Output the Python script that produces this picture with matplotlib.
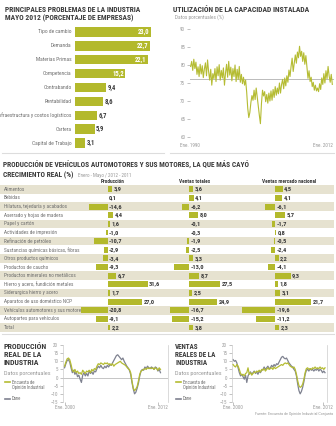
import numpy as np
import matplotlib
matplotlib.use('Agg')
import matplotlib.pyplot as plt
from matplotlib import font_manager

# ---------------------------------------------------------------
# DATA
# ---------------------------------------------------------------
problemas = ["Tipo de cambio", "Demanda", "Materias Primas", "Competencia",
             "Contrabando", "Rentabilidad", "Infraestructura y costos logísticos",
             "Cartera", "Capital de Trabajo"]
problemas_pct = [23.0, 22.7, 22.1, 15.2, 9.4, 8.6, 6.7, 5.9, 3.1]

# utilizacion de la capacidad instalada, bimestral desde ene. 1990
capacidad = [
    79.6, 81.0, 78.5, 81.6, 79.0, 80.8,
    77.4, 79.5, 76.8, 80.2, 77.5, 79.8,
    76.5, 78.9, 80.6, 77.0, 81.4, 78.2,
    75.8, 78.8, 74.4, 77.6, 76.2, 79.0,
    75.4, 79.5, 77.0, 80.1, 75.8, 78.5,
    76.4, 79.2, 74.4, 77.8, 80.2, 76.6,
    81.0, 77.2, 79.4, 75.6, 79.0, 76.8,
    80.0, 75.4, 78.8, 76.0, 79.6, 75.2,
    77.4, 74.8, 76.6, 74.4, 75.8, 72.5,
    68.0, 65.4, 66.8, 69.6, 71.5, 70.2,
    73.0, 70.4, 73.6, 71.0, 68.6, 66.0,
    63.7, 69.4, 73.0, 71.4, 72.6, 69.8,
    71.8, 69.4, 72.2, 70.0, 72.8, 70.2,
    73.2, 71.0, 74.0, 71.6, 73.6, 72.0,
    75.0, 72.2, 74.6, 76.0, 73.4, 76.4,
    74.2, 77.0, 75.2, 78.6, 76.8, 79.6,
    81.9, 78.2, 80.6, 82.8, 80.5, 83.6,
    82.0, 85.2, 82.4, 83.8, 81.0, 83.4,
    80.2, 82.6, 79.6, 76.3, 78.4, 75.4,
    76.6, 74.0, 75.2, 73.0, 74.4, 72.8,
    73.6, 72.6, 74.8, 73.2, 76.4, 74.6,
    77.6, 75.0, 78.4, 76.2, 79.6, 77.0,
    75.2, 77.4, 74.6,
]
capacidad_ref = 76.0

sectores = ["Alimentos", "Bebidas", "Hilatura, tejeduría y acabados",
            "Aserrado y hojas de madera", "Papel y cartón",
            "Actividades de impresión", "Refinación de petróleo",
            "Sustancias químicas básicas, fibras", "Otros productos químicos",
            "Productos de caucho", "Productos minerales no metálicos",
            "Hierro y acero, fundición metales", "Siderurgica hierro y acero",
            "Aparatos de uso doméstico NCP", "Vehículos automotores y sus motores",
            "Autopartes para vehículos", "Total"]
produccion = [3.9, 0.1, -14.6, 4.4, 1.6, -1.0, -10.7, -2.9, -3.4, -9.3,
              6.7, 31.6, 1.7, 27.0, -20.8, -9.1, 2.2]
ventas_totales = [3.6, 4.1, -6.2, 8.0, -0.1, -0.3, -1.9, -2.5, 3.3, -13.0,
                  8.7, 27.5, 2.5, 24.9, -16.7, -15.2, 3.8]
ventas_nacional = [4.5, 4.1, -6.1, 5.7, -1.7, 0.8, -0.5, -2.4, 2.2, -4.1,
                   9.3, 1.8, 3.1, 21.7, -19.6, -11.2, 2.3]

# series bimestrales desde ene. 2000
prod_encuesta = [
    7.0, 9.5, 11.5, 12.0, 11.0, 8.0,
    4.5, 3.5, 5.0, 3.0, 4.0, 2.5,
    3.0, 2.0, 4.5, 3.5, 2.5, 4.0,
    3.5, 4.5, 3.0, 5.0, 4.0, 5.5,
    5.0, 7.0, 8.5, 8.0, 9.0, 8.5,
    8.0, 9.0, 8.5, 9.0, 8.0, 8.5,
    7.5, 8.5, 7.0, 8.0, 8.5, 9.0,
    9.5, 10.0, 9.0, 8.5, 8.0, 7.5,
    6.5, 5.5, 5.0, 3.0, -2.0, -6.5,
    -8.0, -7.0, -5.5, -2.0, 2.0, 4.0,
    4.5, 5.0, 5.5, 5.0, 6.0, 5.5,
    6.0, 5.5, 6.0, 5.0, 6.0, 5.5,
    4.5, 6.0, 5.0,
]
prod_dane = [
    6.0, 8.5, 10.5, 11.0, 9.5, 6.0,
    3.0, 4.5, 2.0, 3.5, 0.5, 1.5,
    -1.0, -3.0, 1.5, 3.0, 1.0, 2.5,
    1.0, 4.0, 2.5, 3.5, 2.0, 4.0,
    3.5, 5.5, 7.0, 6.0, 7.5, 6.0,
    5.5, 7.0, 6.0, 7.5, 6.5, 8.0,
    7.5, 9.0, 10.5, 12.0, 13.5, 14.0,
    13.0, 12.0, 11.0, 12.0, 10.0, 8.5,
    7.0, 6.0, 4.5, 2.0, -3.0, -7.0,
    -10.0, -9.0, -6.5, -3.5, 1.0, 4.0,
    5.0, 4.5, 6.5, 5.5, 7.0, 6.0,
    5.5, 6.5, 6.0, 5.0, 6.5, 6.0,
    4.0, 5.0, 3.0,
]
ventas_encuesta = [
    8.0, 7.0, 6.5, 8.0, 7.0, 5.0,
    2.5, 1.5, 2.0, 1.0, 2.5, 3.0,
    6.0, 2.0, 3.0, 1.5, 2.5, 3.5,
    3.0, 4.0, 3.5, 4.5, 3.5, 5.0,
    4.5, 5.5, 4.0, 5.0, 6.0, 5.0,
    5.5, 6.0, 5.0, 6.5, 5.5, 6.0,
    6.5, 7.0, 7.5, 8.0, 7.5, 8.5,
    9.0, 8.5, 9.0, 8.0, 7.0, 6.5,
    6.0, 6.5, 5.0, 2.0, -2.0, -5.0,
    -6.0, -5.5, -4.0, -1.0, 3.0, 5.5,
    6.0, 5.0, 5.5, 5.0, 6.0, 5.5,
    6.5, 5.5, 6.0, 5.5, 6.5, 5.5,
    6.0, 5.0, 6.0,
]
ventas_dane = [
    11.0, 10.0, 10.5, 9.0, 6.0, 3.0,
    1.0, 2.0, 0.5, -1.0, 1.5, -3.0,
    1.0, 2.5, 3.5, 2.0, 3.0, 4.0,
    2.5, 3.5, 2.0, 4.0, 3.0, 4.5,
    5.0, 6.5, 5.0, 6.0, 7.0, 5.5,
    6.0, 7.5, 6.5, 8.0, 7.0, 8.5,
    8.0, 9.5, 11.0, 12.5, 13.0, 12.0,
    11.5, 12.0, 10.5, 9.0, 8.0, 7.0,
    6.5, 5.0, 4.0, 1.0, -4.0, -8.0,
    -10.0, -8.5, -6.0, -2.5, 2.0, 4.5,
    5.0, 4.0, 5.5, 4.5, 5.0, 4.0,
    5.0, 4.5, 5.5, 4.0, 5.0, 4.5,
    3.0, 4.0, 3.0,
]

# ---------------------------------------------------------------
# STYLE
# ---------------------------------------------------------------
W, H = 336, 426
GREEN = '#b3b92c'
LINE_GREEN = '#b5bc33'
GRAY_LINE = '#7f8290'
DARK = '#3a3a3a'
LABEL = '#6e6e6e'
SHADE = '#e6e2d0'

# pick a narrow face if one is installed, else Liberation Sans
fonts = font_manager.fontManager.ttflist
names = {f.name for f in fonts}
STRETCH = 'normal'
if 'Liberation Sans Narrow' in names:
    FAMILY = 'Liberation Sans Narrow'
elif 'Roboto Condensed' in names:
    FAMILY = 'Roboto Condensed'
elif any(f.name == 'DejaVu Sans' and f.stretch == 'condensed' for f in fonts):
    FAMILY, STRETCH = 'DejaVu Sans', 'condensed'
else:
    FAMILY = 'Liberation Sans'
plt.rcParams['font.family'] = [FAMILY, 'DejaVu Sans']
plt.rcParams['font.stretch'] = STRETCH


def rect(x0, y0, x1, y1):
    # pixel box (top-left origin) -> figure fraction
    return [x0 / W, 1 - y1 / H, (x1 - x0) / W, (y1 - y0) / H]


def fmt(v):
    return f"{v:.1f}".replace('.', ',')


fig = plt.figure(figsize=(W / 100, H / 100), dpi=100)
fig.patch.set_facecolor('white')
renderer = fig.canvas.get_renderer()

canvas = fig.add_axes([0, 0, 1, 1], zorder=0)
canvas.set_xlim(0, W)
canvas.set_ylim(H, 0)
canvas.axis('off')


def fit_size(s, width, base=6.0):
    # font size so that bold text s is `width` px wide
    t = canvas.text(0, 0, s, fontsize=base, fontweight='bold')
    w = t.get_window_extent(renderer).width
    t.remove()
    return base * width / w


def title(lines, x, y0, step, size):
    for k, s in enumerate(lines):
        canvas.text(x, y0 + k * step, s, fontsize=size, fontweight='bold',
                    color=DARK, va='baseline')


# dividers
canvas.plot([2, 164], [153, 153], color='#dddddd', lw=0.8)
canvas.plot([170, 334], [153, 153], color='#dddddd', lw=0.8)
canvas.plot([2, 334], [334, 334], color='#dddddd', lw=0.8)

# ── Panel 1: principales problemas ──
s1 = fit_size("PRINCIPALES PROBLEMAS DE LA INDUSTRIA", 138)
title(["PRINCIPALES PROBLEMAS DE LA INDUSTRIA",
       "MAYO 2012 (PORCENTAJE DE EMPRESAS)"], 5, 12, 8, s1)

ax1 = fig.add_axes(rect(75, 25, 165, 150), facecolor='none')
rows = np.arange(len(problemas))
ax1.barh(rows, problemas_pct, height=0.68, color=GREEN)
ax1.set_xlim(0, 27.2)
ax1.set_ylim(len(problemas) - 0.5, -0.5)
ax1.axis('off')
for i, (name, v) in enumerate(zip(problemas, problemas_pct)):
    ax1.text(-1.0, i, name, ha='right', va='center', fontsize=4.0, color=LABEL)
    if v > 12:
        ax1.text(v - 0.4, i, fmt(v), ha='right', va='center', fontsize=4.8,
                 fontweight='bold', color='white')
    else:
        ax1.text(v + 0.5, i, fmt(v), ha='left', va='center', fontsize=4.8,
                 fontweight='bold', color=DARK)

# ── Panel 2: utilización de la capacidad ──
s2 = fit_size("UTILIZACIÓN DE LA CAPACIDAD INSTALADA", 138)
title(["UTILIZACIÓN DE LA CAPACIDAD INSTALADA"], 173, 12, 8, s2)
canvas.text(175, 19, "Datos porcentuales (%)", fontsize=3.8, color='#999999',
            va='baseline')

ax2 = fig.add_axes(rect(190, 29, 334, 137), facecolor='none')
years_cap = 1990 + np.arange(len(capacidad)) / 6
ax2.axhline(capacidad_ref, color='#bbbbbb', lw=0.7, zorder=1)
ax2.plot(years_cap, capacidad, color=LINE_GREEN, lw=0.8, zorder=2)
ax2.set_xlim(1989.9, 2012.6)
ax2.set_ylim(60, 90)
ax2.set_yticks([60, 65, 70, 75, 80, 85, 90])
ax2.set_xticks([])
for s in ax2.spines.values():
    s.set_visible(False)
ax2.tick_params(axis='y', length=2.5, width=0.5, color='#aaaaaa',
                labelsize=3.6, labelcolor='#999999', pad=1)
canvas.text(180, 147, "Ene. 1990", fontsize=3.7, color='#999999', va='baseline')
canvas.text(333, 147, "Ene. 2012", fontsize=3.7, color='#999999', va='baseline',
            ha='right')

# ── Panel 3: tabla de crecimiento ──
s3 = fit_size("PRODUCCIÓN DE VEHÍCULOS AUTOMOTORES Y SUS MOTORES, LA QUE MÁS CAYÓ", 245)
title(["PRODUCCIÓN DE VEHÍCULOS AUTOMOTORES Y SUS MOTORES, LA QUE MÁS CAYÓ",
       "CRECIMIENTO REAL (%)"], 3, 168, 9, s3)
canvas.text(78, 177, "Enero - Mayo / 2012 - 2011", fontsize=3.7,
            color='#999999', va='baseline')

n = len(sectores)
table_box = (185, 331.8)
bg = fig.add_axes(rect(0, table_box[0], 334, table_box[1]), facecolor='none',
                  zorder=1)
bg.set_xlim(0, 1)
bg.set_ylim(n - 0.5, -0.5)
bg.axis('off')
for i, name in enumerate(sectores):
    if i % 2 == 0:
        bg.axhspan(i - 0.5, i + 0.5, color=SHADE, lw=0)
    bg.text(0.012, i, name, ha='left', va='center', fontsize=3.8, color=LABEL)

columns = [
    ("Producción", produccion, 107.5, 1.27, 78, 166, 113),
    ("Ventas totales", ventas_totales, 189.0, 1.12, 166, 250, 195),
    ("Ventas mercado nacional", ventas_nacional, 275.0, 1.68, 238, 336, 289),
]
for header, vals, zero, scale, xa, xb, hx in columns:
    ax = fig.add_axes(rect(xa, table_box[0], xb, table_box[1]),
                      facecolor='none', zorder=2)
    ax.barh(np.arange(n), vals, height=0.68, color=GREEN)
    ax.set_xlim((xa - zero) / scale, (xb - zero) / scale)
    ax.set_ylim(n - 0.5, -0.5)
    ax.axis('off')
    pad = 1.6 / scale
    for i, v in enumerate(vals):
        x = v + pad if v > 0 else pad
        ax.text(x, i, fmt(v), ha='left', va='center', fontsize=4.6,
                fontweight='bold', color=DARK)
    canvas.text(hx, 183, header, ha='center', va='baseline', fontsize=3.9,
                fontweight='bold', color=DARK)


# ── Panels 4 & 5: series 2000-2012 ──
def serie_panel(title_lines, fit_line, fit_w, x_text, box, xlim, enc, dane):
    size = fit_size(fit_line, fit_w)
    title(title_lines, x_text, 349, 8, size)
    canvas.text(x_text, 375, "Datos porcentuales", fontsize=4.4,
                color='#999999', va='baseline')
    canvas.plot([x_text + 1, x_text + 6], [382, 382], color=LINE_GREEN, lw=1.2)
    canvas.text(x_text + 8, 383.5, "Encuesta de", fontsize=3.3, color=LABEL,
                va='baseline')
    canvas.text(x_text + 8, 389, "Opinión Industrial", fontsize=3.3,
                color=LABEL, va='baseline')
    canvas.plot([x_text + 1, x_text + 6], [399, 399], color=GRAY_LINE, lw=1.2)
    canvas.text(x_text + 8, 400.5, "Dane", fontsize=3.3, color=LABEL,
                va='baseline')

    ax = fig.add_axes(rect(*box), facecolor='none')
    t = 2000 + np.arange(len(enc)) / 6
    ax.axhline(0, color='#bbbbbb', lw=0.6, zorder=1)
    ax.plot(t, dane, color=GRAY_LINE, lw=0.9, zorder=2)
    ax.plot(t, enc, color=LINE_GREEN, lw=0.9, zorder=3)
    ax.set_xlim(*xlim)
    ax.set_ylim(-15, 20)
    ax.set_yticks([-15, -10, -5, 0, 5, 10, 15, 20])
    ax.set_xticks([2000, 2012])
    ax.set_xticklabels(["Ene. 2000", "Ene. 2012"])
    ax.spines['top'].set_visible(False)
    ax.spines['bottom'].set_visible(False)
    for side in ('left', 'right'):
        ax.spines[side].set_color('#cccccc')
        ax.spines[side].set_linewidth(0.5)
    ax.tick_params(axis='y', length=2.5, width=0.5, color='#aaaaaa',
                   labelsize=3.6, labelcolor='#999999', pad=1)
    ax.tick_params(axis='x', length=2, width=0.5, color='#aaaaaa',
                   labelsize=3.6, labelcolor='#999999', pad=0.5)


serie_panel(["PRODUCCIÓN", "REAL DE LA", "INDUSTRIA"], "PRODUCCIÓN", 43, 4,
            (63, 345, 168, 402), (1999.8, 2013.3), prod_encuesta, prod_dane)
serie_panel(["VENTAS", "REALES DE LA", "INDUSTRIA"], "REALES DE LA", 41, 175,
            (232, 345, 327, 402), (1999.85, 2012.6), ventas_encuesta, ventas_dane)

canvas.text(333, 415, "Fuente: Encuesta de Opinión Industrial Conjunta",
            fontsize=3.0, color='#999999', ha='right', va='baseline')

plt.savefig('out.png', dpi=100, facecolor='white')
plt.close()
